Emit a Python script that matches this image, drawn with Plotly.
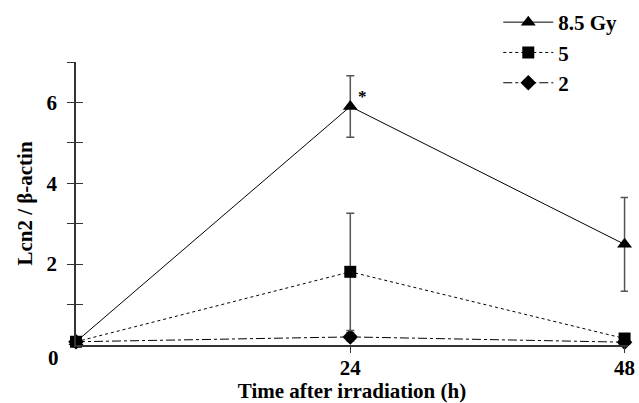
import plotly.graph_objects as go

hours = [0, 24, 48]
series_names = ["8.5 Gy", "5", "2"]
lcn2_85 = [0.08, 5.90, 2.49]
err_85 = [0.0, 0.76, 1.16]
lcn2_5 = [0.08, 1.81, 0.16]
err_5 = [0.0, 1.45, 0.0]
lcn2_2 = [0.08, 0.20, 0.07]
err_2 = [0.0, 0.10, 0.0]
y_tick_vals = [1, 2, 3, 4, 5, 6, 7]
y_tick_text = ["", "2", "", "4", "", "6", ""]
x_tick_vals = [24, 48]

FONT = "Liberation Serif"
FS = 21
BF = dict(family=FONT, size=FS, color="black", weight="bold")
fig = go.Figure()

styles = {
    "8.5 Gy": (lcn2_85, err_85, "solid", "triangle-up", 13, 1),
    "5": (lcn2_5, err_5, "dot", "square", 12, 2),
    "2": (lcn2_2, err_2, "dashdot", "diamond", 12, 3),
}
draw_order = [series_names[2], series_names[0], series_names[1]]
for name in draw_order:
    vals, errs, dash, sym, sz, rank = styles[name]
    fig.add_trace(go.Scatter(
        x=hours, y=vals, name=name, mode="lines+markers", legendrank=rank,
        line=dict(color="black", width=1, dash=dash),
        marker=dict(symbol=sym, size=sz, color="black"),
        error_y=dict(type="data", array=errs, visible=True, color="#555555",
                     thickness=1.5, width=4),
        cliponaxis=False,
    ))

fig.add_trace(go.Scatter(x=[0], y=[0], yaxis="y2", showlegend=False,
                         mode="markers", marker=dict(opacity=0), hoverinfo="skip"))

fig.update_layout(
    width=639, height=403,
    margin=dict(l=76, r=11, t=62, b=58, autoexpand=False),
    paper_bgcolor="white", plot_bgcolor="white",
    font=BF,
    showlegend=True,
    legend=dict(x=0.765, y=1.212, xanchor="left", yanchor="top",
                font=BF, itemwidth=50, tracegroupgap=0,
                bgcolor="rgba(0,0,0,0)"),
    xaxis=dict(range=[0, 48.3], tickvals=x_tick_vals, ticks="outside", ticklen=6,
               tickcolor="#333333", showline=True, linecolor="#333333", linewidth=1.5,
               showgrid=False, zeroline=False, tickfont=BF, ticklabelstandoff=-3,
               title=dict(text="Time after irradiation (h)", standoff=0, font=BF)),
    yaxis=dict(range=[0, 7], tickvals=y_tick_vals, ticktext=y_tick_text,
               ticks="outside", ticklen=7, tickcolor="#333333", tickwidth=1.2,
               showline=True, linecolor="#333333", linewidth=1.5,
               showgrid=False, zeroline=False, ticklabelstandoff=6, tickfont=BF,
               title=dict(text="Lcn2 / β-actin", standoff=8, font=BF)),
    yaxis2=dict(range=[0, 7], overlaying="y", side="left", tickvals=y_tick_vals,
                showticklabels=False, ticks="inside", ticklen=7, tickcolor="#333333",
                tickwidth=1.2, showline=False, showgrid=False, zeroline=False),
)

fig.add_annotation(xref="paper", yref="y", x=0, y=0, text="0", showarrow=False,
                   xanchor="right", yanchor="middle", xshift=-15, yshift=-13, font=BF)
fig.add_annotation(xref="x", yref="y", x=hours[1], y=lcn2_85[1], text="*",
                   showarrow=False, xshift=12, yshift=10,
                   font=dict(family=FONT, size=17, color="black", weight="bold"))

fig.write_html("out.html", config={"displayModeBar": False},
               post_script="document.body.style.margin='0';")
